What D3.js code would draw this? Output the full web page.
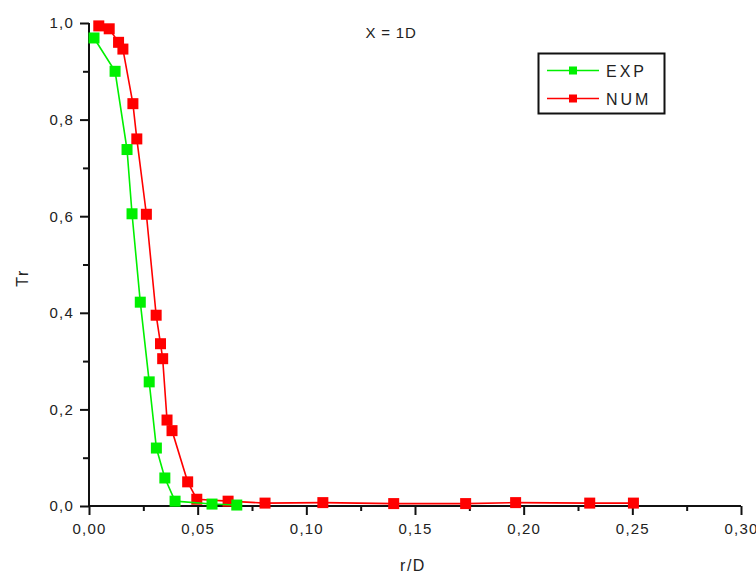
<!DOCTYPE html>
<html>
<head>
<meta charset="utf-8">
<script src="https://cdn.jsdelivr.net/npm/d3@7"></script>
<style>
html,body{margin:0;padding:0;background:#fff;}
svg text{font-family:"Liberation Sans",Arial,sans-serif;fill:#222;}
</style>
</head>
<body>
<svg id="chart" width="756" height="574"></svg>
<script>
// ---- data ----
const expR  = [0.0023,0.012,0.0175,0.0198,0.0236,0.0277,0.031,0.0349,0.0396,0.0566,0.068];
const expTr = [0.969,0.900,0.738,0.605,0.422,0.257,0.120,0.058,0.010,0.004,0.002];
const numR  = [0.0045,0.0093,0.0136,0.0156,0.0202,0.022,0.0264,0.0309,0.0329,0.0339,0.0359,0.0382,0.0454,0.0496,0.064,0.0810,0.1076,0.1402,0.1733,0.1963,0.2304,0.2505];
const numTr = [0.994,0.988,0.960,0.946,0.833,0.760,0.604,0.395,0.336,0.305,0.178,0.156,0.050,0.014,0.010,0.006,0.007,0.005,0.005,0.007,0.006,0.006];
const xTicks = [0,0.05,0.10,0.15,0.20,0.25,0.30];
const xTickLabels = ["0,00","0,05","0,10","0,15","0,20","0,25","0,30"];
const yTicks = [0,0.2,0.4,0.6,0.8,1.0];
const yTickLabels = ["0,0","0,2","0,4","0,6","0,8","1,0"];
const seriesNames = ["EXP","NUM"];
const seriesColors = ["#00f000","#ff0000"];
const titleText = "X = 1D";
const xTitle = "r/D";
const yTitle = "Tr";

const svg = d3.select("#chart");
const x = d3.scaleLinear().domain([0,0.30]).range([89,741]);
const y = d3.scaleLinear().domain([0,1.0]).range([506,23]);

// axes
const xAxis = d3.axisBottom(x).tickValues(xTicks).tickFormat((d,i)=>xTickLabels[i]).tickSize(9).tickPadding(8);
const xMinor = d3.axisBottom(x).tickValues(d3.range(0.025,0.3,0.05)).tickFormat("").tickSize(5);
const yAxis = d3.axisLeft(y).tickValues(yTicks).tickFormat((d,i)=>yTickLabels[i]).tickSize(9).tickPadding(6);
const yMinor = d3.axisLeft(y).tickValues(d3.range(0.1,1.0,0.2)).tickFormat("").tickSize(6);

function styleAxis(g){
  g.select(".domain").attr("stroke","#111").attr("stroke-width",2);
  g.selectAll(".tick line").attr("stroke","#111").attr("stroke-width",2);
  g.selectAll(".tick text").attr("font-size",15).attr("letter-spacing","1.2px").attr("fill","#333")
    .attr("font-family","'Liberation Sans',Arial,sans-serif");
}
svg.append("g").attr("transform","translate(0,506)").call(xMinor).call(styleAxis).select(".domain").remove();
svg.append("g").attr("transform","translate(89,0)").call(yMinor).call(styleAxis).select(".domain").remove();
svg.append("g").attr("transform","translate(0,506)").call(xAxis).call(styleAxis)
  .select(".domain").attr("d","M89,0H741");
svg.append("g").attr("transform","translate(89,0)").call(yAxis).call(styleAxis)
  .select(".domain").attr("d","M0,23V506");

// series
const series = [
  {name:seriesNames[0], xs:expR, ys:expTr, color:seriesColors[0]},
  {name:seriesNames[1], xs:numR, ys:numTr, color:seriesColors[1]}
];
const line = d3.line().x(d=>x(d[0])).y(d=>y(d[1]));
const ms = 11;
series.slice().reverse().forEach(s=>{
  const pts = s.xs.map((v,i)=>[v,s.ys[i]]);
  const g = svg.append("g");
  g.append("path").datum(pts).attr("d",line).attr("fill","none").attr("stroke",s.color).attr("stroke-width",1.6);
  g.selectAll("rect").data(pts).join("rect")
    .attr("x",d=>x(d[0])-ms/2).attr("y",d=>y(d[1])-ms/2)
    .attr("width",ms).attr("height",ms).attr("fill",s.color);
});

// title
svg.append("text").attr("x",391).attr("y",38).attr("text-anchor","middle")
  .attr("font-size",15).attr("letter-spacing","0.8px").text(titleText);

// axis titles
svg.append("text").attr("x",413).attr("y",571).attr("text-anchor","middle")
  .attr("font-size",16).attr("letter-spacing","1.5px").text(xTitle);
svg.append("text").attr("transform","translate(28,278) rotate(-90)").attr("text-anchor","middle")
  .attr("font-size",16).attr("letter-spacing","1.5px").text(yTitle);

// legend
const lg = svg.append("g");
lg.append("rect").attr("x",538.5).attr("y",53.5).attr("width",126).attr("height",60)
  .attr("fill","#fff").attr("stroke","#111").attr("stroke-width",2);
series.forEach((s,i)=>{
  const ly = 70.5 + i*28;
  lg.append("line").attr("x1",547).attr("x2",599).attr("y1",ly).attr("y2",ly)
    .attr("stroke",s.color).attr("stroke-width",1.6);
  lg.append("rect").attr("x",573-4).attr("y",ly-4).attr("width",8).attr("height",8).attr("fill",s.color);
  lg.append("text").attr("x",606).attr("y",ly+6).attr("font-size",16).attr("letter-spacing","3px").text(s.name);
});
</script>
</body>
</html>
